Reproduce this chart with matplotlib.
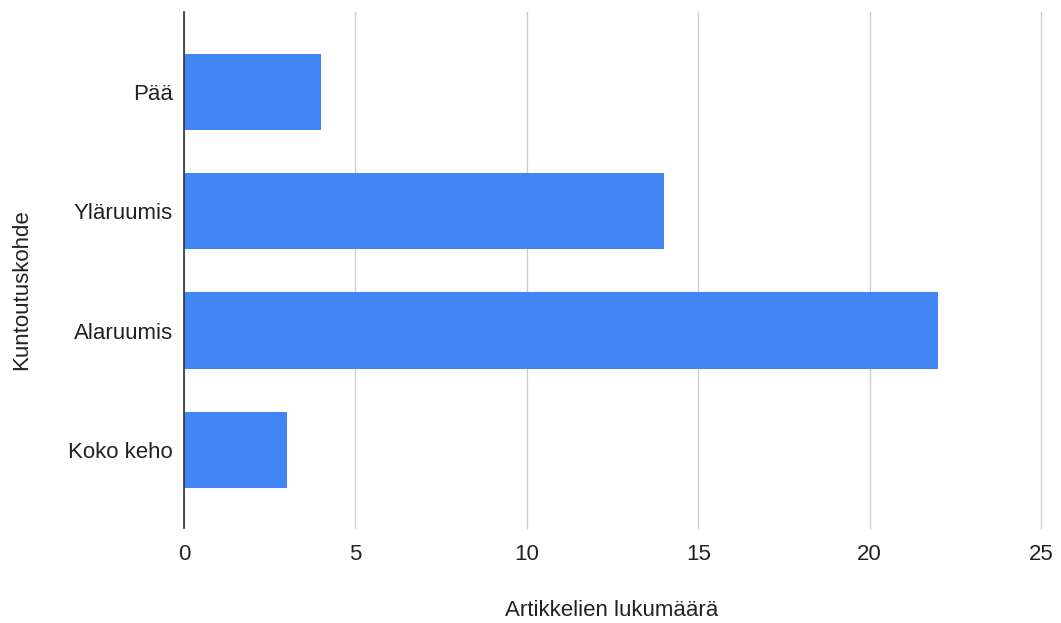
import matplotlib.pyplot as plt

plt.rcParams['font.family'] = ['Liberation Sans', 'DejaVu Sans']

# Articles per rehabilitation target
categories = ["Pää", "Yläruumis", "Alaruumis", "Koko keho"]
counts = [4, 14, 22, 3]
x_ticks = [0, 5, 10, 15, 20, 25]

W, H = 1061, 623
fig = plt.figure(figsize=(W / 100, H / 100), dpi=100)
ax = fig.add_axes([184 / W, 1 - 528 / H, (1041 - 184) / W, (528 - 12) / H])

ypos = list(range(len(categories)))
ax.barh(ypos, counts, height=0.64, color="#4285F4", zorder=3)

ax.set_xlim(0, 25)
ax.set_ylim(len(categories) - 1 + 0.655, -0.67)
ax.set_xticks(x_ticks)
ax.set_yticks(ypos)
ax.set_yticklabels(categories)

ax.grid(axis="x", color="#cccccc", linewidth=1, zorder=0)
for line in ax.get_xgridlines():
    line.set_clip_on(False)
for side in ("top", "right", "bottom"):
    ax.spines[side].set_visible(False)
ax.spines["left"].set_color("#333333")
ax.spines["left"].set_linewidth(1.2)
ax.spines["left"].set_zorder(4)

ax.tick_params(axis="both", length=0, labelsize=16, colors="#222222")
ax.tick_params(axis="x", pad=11.5)
ax.tick_params(axis="y", pad=8)

# axis titles placed in figure pixels
fig.text(612 / W, 1 - 611 / H, "Artikkelien lukumäärä", fontsize=16,
         color="#222222", ha="center", va="center")
fig.text(22 / W, 1 - 290 / H, "Kuntoutuskohde", fontsize=16,
         color="#222222", ha="center", va="center", rotation=90)

fig.savefig("out.png", dpi=100)
